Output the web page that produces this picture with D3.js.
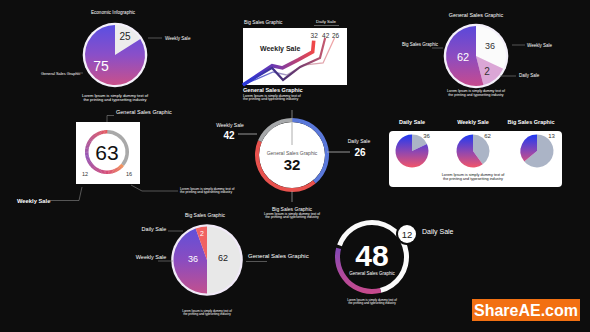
<!DOCTYPE html>
<html><head><meta charset="utf-8">
<script src="https://cdn.jsdelivr.net/npm/d3@7"></script>
<style>html,body{margin:0;padding:0;background:#0d0d0d;}svg{display:block;font-family:"Liberation Sans",Arial,sans-serif;}</style>
</head><body><svg id="c" width="590" height="332"></svg>
<script>
// ---------- data ----------
const lorem = ["Lorem Ipsum is simply dummy text of", "the printing and typesetting industry"];
const econLabels = ["25", "75"];
const econShares = [16, 84];
const lineNames = ["Light", "Thick", "Dark"];
const lineX = [[0, 29, 42, 58, 77, 88], [0, 28, 38, 53, 67, 68], [0, 28, 38.5, 55, 74, 79]];
const lineY = [[0, 11.4, 8.8, 17.5, 19.3, 41.2], [0, 17, 15, 22, 29, 39], [0, 15, 4.4, 15.8, 23.7, 41.2]];
const lineLabels = ["32", "42", "26"];
const genLabels = ["36", "2", "62"];
const genShares = [32, 14, 54];
const ringValue = "63";
const ringShares = [36, 64];
const ringSideLabels = ["12", "16"];
const centerShares = [39, 42.5, 18.5];
const centerLabels = ["42", "26", "32"];
const miniTitles = ["Daily Sale", "Weekly Sale", "Big Sales Graphic"];
const miniLabels = ["36", "62", "13"];
const miniGrayShares = [18, 40, 64];
const bigLabels = ["62", "36", "2"];
const bigShares = [50, 44.5, 5.5];
const donutValue = "48";
const donutBadge = "12";
const donutShares = [46, 33, 1.5, 19.5];

const svg = d3.select("#c");
const defs = svg.append("defs");
svg.append("rect").attr("width", 590).attr("height", 332).attr("fill", "#0d0d0d");

function vgrad(id, stops, y1, y2, x1, x2) {
  const g = defs.append("linearGradient").attr("id", id).attr("gradientUnits", "userSpaceOnUse")
    .attr("x1", x1 || 0).attr("x2", x2 || 0).attr("y1", y1).attr("y2", y2);
  stops.forEach((c, i) => g.append("stop").attr("offset", i / (stops.length - 1)).attr("stop-color", c));
}
function txt(x, y, s, size, opts) {
  opts = opts || {};
  return svg.append("text").attr("x", x).attr("y", y).text(s).attr("font-size", size)
    .attr("fill", opts.fill || "#fff").attr("text-anchor", opts.anchor || "middle")
    .attr("font-weight", opts.weight || "normal");
}
function line(pts, color, w) {
  svg.append("path").attr("d", d3.line()(pts)).attr("fill", "none").attr("stroke", color || "#888").attr("stroke-width", w || 0.6);
}
function loremAt(x, y, size, fill, anchor, gap) {
  lorem.forEach((l, i) => txt(x, y + i * (gap || size * 1.1), l, size, {fill: fill || "#fff", anchor: anchor || "middle"}));
}
const pieGen = d3.pie().sort(null).value(d => d);

// ---------- 1. Economic Infographic pie ----------
(function () {
  const cx = 115, cy = 55, r = 30;
  vgrad("g1", ["#5a4fe2", "#8a4fc8", "#c9508a"], -r, r);
  const g = svg.append("g").attr("transform", `translate(${cx},${cy})`);
  g.append("circle").attr("r", r + 2.3).attr("fill", "#f4f0fa");
  const arcs = pieGen(econShares);
  const cols = ["#ececec", "url(#g1)"];
  g.selectAll("path").data(arcs).join("path").attr("d", d3.arc().innerRadius(0).outerRadius(r)).attr("fill", (d, i) => cols[i]);
  txt(125, 40, econLabels[0], 10, {fill: "#222"});
  txt(101, 71, econLabels[1], 14);
  txt(113, 14, "Economic Infographic", 4.6);
  txt(165, 39.5, "Weekly Sale", 4.6, {anchor: "start"});
  line([[148, 38], [162, 38]]);
  txt(41, 74.5, "General Sales Graphic", 3.9, {anchor: "start"});
  line([[77, 73], [83, 73]]);
  loremAt(115, 96.5, 4);
})();

// ---------- 2. Big Sales line chart ----------
(function () {
  const x = d3.scaleLinear().domain([0, 100]).range([243, 347]);
  const y = d3.scaleLinear().domain([0, 50]).range([85, 28]);
  svg.append("rect").attr("x", x(0)).attr("y", y(50)).attr("width", x(100) - x(0)).attr("height", y(0) - y(50)).attr("fill", "#fff");
  vgrad("l0", ["#2b3fe0", "#b8a8c0", "#f3a4a4"], 0, 0, x(0), x(90));
  vgrad("l1", ["#2233e0", "#7a3aa8", "#f04848"], 0, 0, x(0), x(68));
  vgrad("l2", ["#2a3ae0", "#4a2f70", "#c85a70"], 0, 0, x(0), x(80));
  const widths = [1.3, 3.6, 2.2];
  [0, 1, 2].forEach(s => {
    const pts = lineX[s].map((v, i) => [x(v), y(lineY[s][i])]);
    svg.append("path").attr("d", d3.line()(pts)).attr("fill", "none").attr("stroke", `url(#l${s})`)
      .attr("stroke-width", widths[s]).attr("stroke-linejoin", "miter");
  });
  const lx = [x(68.5), x(79.5), x(89)];
  lineLabels.forEach((l, i) => txt(lx[i], 37.5, l, 6.5, {fill: "#333"}));
  txt(260, 50.5, "Weekly Sale", 7, {fill: "#222", anchor: "start", weight: "bold"});
  txt(244, 24, "Big Sales Graphic", 4.8, {anchor: "start"});
  txt(326, 22.5, "Daily Sale", 4.4);
  line([[314, 25.5], [339, 25.5]], "#999");
  txt(243, 92, "General Sales Graphic", 5.6, {anchor: "start", weight: "bold"});
  loremAt(243, 96.5, 3.5, "#fff", "start");
})();

// ---------- 3. General Sales pie (top right) ----------
(function () {
  const cx = 476, cy = 56, r = 30;
  vgrad("g3", ["#5a48da", "#8c4cc0", "#c64a8e"], -r, r);
  const g = svg.append("g").attr("transform", `translate(${cx},${cy})`);
  g.append("circle").attr("r", r + 2.3).attr("fill", "#f4f0fa");
  const cols = ["#fbfbfb", "#dba6d6", "url(#g3)"];
  g.selectAll("path").data(pieGen(genShares)).join("path").attr("d", d3.arc().innerRadius(0).outerRadius(r)).attr("fill", (d, i) => cols[i]);
  txt(490, 49, genLabels[0], 9, {fill: "#333"});
  txt(487, 75, genLabels[1], 10, {fill: "#333"});
  txt(463, 60.5, genLabels[2], 11);
  txt(476, 17, "General Sales Graphic", 5.4);
  txt(402, 45.5, "Big Sales Graphic", 4.5, {anchor: "start"});
  line([[432, 48], [443, 48]]);
  txt(527, 47, "Weekly Sale", 4.5, {anchor: "start"});
  line([[512, 45], [525, 45]]);
  txt(519, 77, "Daily Sale", 4.5, {anchor: "start"});
  line([[500, 76], [516, 76]]);
  loremAt(476, 92, 3.5);
})();

// ---------- 4. Ring in white square (middle left) ----------
(function () {
  svg.append("rect").attr("x", 76).attr("y", 122).attr("width", 64).attr("height", 62).attr("fill", "#fff");
  const cx = 107, cy = 152, ro = 22, ri = 18.5;
  const g = svg.append("g").attr("transform", `translate(${cx},${cy})`);
  const arcs = pieGen(ringShares);
  const arc = d3.arc().innerRadius(ri).outerRadius(ro);
  g.append("path").attr("d", arc(arcs[0])).attr("fill", "#a9a9a9");
  const c = d3.scaleLinear().domain([0, 0.2, 0.55, 1]).range(["#f0905a", "#d84e76", "#9456b6", "#e65a5e"]);
  const a0 = arcs[1].startAngle, a1 = arcs[1].endAngle, n = 60;
  g.selectAll(".seg").data(d3.range(n)).join("path").attr("class", "seg")
    .attr("d", i => arc({startAngle: a0 + (a1 - a0) * i / n, endAngle: a0 + (a1 - a0) * (i + 1.2) / n}))
    .attr("fill", i => c(i / n));
  txt(107, 159.5, ringValue, 21, {fill: "#111"});
  txt(85, 176, ringSideLabels[0], 5.5, {fill: "#333"});
  txt(129, 176, ringSideLabels[1], 5.5, {fill: "#333"});
  txt(116, 113.5, "General Sales Graphic", 5.5, {anchor: "start"});
  line([[107, 122], [107, 115.5], [114, 115.5]]);
  txt(17, 202.5, "Weekly Sale", 5.8, {anchor: "start", weight: "bold"});
  line([[48, 200.5], [79, 200.5], [82, 187]]);
  line([[131, 185], [142, 191], [178, 191]]);
  loremAt(180, 189.5, 3.3, "#fff", "start");
})();

// ---------- 5. Center ring ----------
(function () {
  const cx = 292, cy = 155, ro = 37, ri = 33;
  const g = svg.append("g").attr("transform", `translate(${cx},${cy})`);
  g.append("circle").attr("r", ri).attr("fill", "#fff");
  const cols = ["#5a78da", "#e8524e", "#a6a8aa"];
  g.selectAll("path").data(pieGen(centerShares)).join("path").attr("d", d3.arc().innerRadius(ri).outerRadius(ro)).attr("fill", (d, i) => cols[i]);
  line([[292, 110], [292, 145]], "#9a9a9a", 0.8);
  line([[292, 191], [292, 202]], "#9a9a9a", 0.8);
  txt(292, 155, "General Sales Graphic", 5, {fill: "#555"});
  txt(292, 170, centerLabels[2], 15, {fill: "#111", weight: "bold"});
  txt(230, 127, "Weekly Sale", 5);
  txt(229, 139, centerLabels[0], 10, {weight: "bold"});
  line([[238, 134], [257, 134]], "#bbb", 0.8);
  txt(359, 143, "Daily Sale", 5);
  txt(360, 156, centerLabels[1], 10, {weight: "bold"});
  line([[327, 152], [350, 152]], "#bbb", 0.8);
  txt(292, 210.5, "Big Sales Graphic", 5);
  loremAt(292, 214.5, 3.4);
})();

// ---------- 6. Three mini pies ----------
(function () {
  svg.append("rect").attr("x", 389).attr("y", 131).attr("width", 173).attr("height", 56).attr("rx", 4).attr("fill", "#fff");
  const cxs = [412, 473, 537], r = 16.5, cy = 151;
  vgrad("g6", ["#1e3af2", "#8a46b4", "#f2556a"], -r, r);
  miniGrayShares.forEach((s, k) => {
    const g = svg.append("g").attr("transform", `translate(${cxs[k]},${cy})`);
    const cols = ["#abb4c6", "url(#g6)"];
    g.selectAll("path").data(pieGen([s, 100 - s])).join("path").attr("d", d3.arc().innerRadius(0).outerRadius(r)).attr("fill", (d, i) => cols[i]);
    txt(cxs[k] + 14.5, 138, miniLabels[k], 6, {fill: "#333"});
    txt(k === 2 ? 531 : cxs[k], 123.5, miniTitles[k], 5.5, {weight: "bold"});
  });
  loremAt(473, 176, 3.8, "#111");
})();

// ---------- 7. Big Sales pie (bottom left) ----------
(function () {
  const cx = 207, cy = 260, r = 33.5;
  vgrad("g7", ["#5e50da", "#8a4cc0", "#c2508e"], -r, r);
  const g = svg.append("g").attr("transform", `translate(${cx},${cy})`);
  g.append("circle").attr("r", r + 2.3).attr("fill", "#f1eaf8");
  const cols = ["#e8e8e8", "url(#g7)", "#f06262"];
  g.selectAll("path").data(pieGen(bigShares)).join("path").attr("d", d3.arc().innerRadius(0).outerRadius(r)).attr("fill", (d, i) => cols[i]);
  txt(223, 261, bigLabels[0], 9, {fill: "#222"});
  txt(193, 261.5, bigLabels[1], 9);
  txt(202, 236, bigLabels[2], 7);
  txt(205, 216.5, "Big Sales Graphic", 5);
  txt(154, 231, "Daily Sale", 5.5);
  line([[168, 231], [183, 231]]);
  txt(151, 258.5, "Weekly Sale", 5.5);
  line([[158, 261], [173, 261]]);
  txt(248, 258, "General Sales Graphic", 6, {anchor: "start"});
  line([[246, 261.5], [267, 261.5]]);
  loremAt(207, 312, 3);
})();

// ---------- 8. Donut 48 (bottom right) ----------
(function () {
  const cx = 372, cy = 257, ro = 37, ri = 32;
  vgrad("g8", ["#7e48b6", "#a84aa2", "#c84a8c"], -ro * 0.3, ro);
  const g = svg.append("g").attr("transform", `translate(${cx},${cy})`);
  const cols = ["#fafafa", "url(#g8)", "none", "#fafafa"];
  g.selectAll("path").data(pieGen(donutShares)).join("path").attr("d", d3.arc().innerRadius(ri).outerRadius(ro)).attr("fill", (d, i) => cols[i]);
  txt(372, 265.5, donutValue, 30, {weight: "bold"});
  txt(372, 274.5, "General Sales Graphic", 4.5);
  svg.append("circle").attr("cx", 407).attr("cy", 234).attr("r", 11).attr("fill", "#0d0d0d");
  svg.append("circle").attr("cx", 407).attr("cy", 234).attr("r", 9).attr("fill", "#fff");
  txt(407, 237.5, donutBadge, 9.5, {fill: "#222"});
  txt(422, 233.5, "Daily Sale", 7, {anchor: "start"});
  loremAt(372, 301, 3);
})();

// ---------- watermark ----------
svg.append("rect").attr("x", 472).attr("y", 299).attr("width", 108).attr("height", 22).attr("fill", "#f27012");
txt(526, 316, "ShareAE.com", 16, {weight: "bold"});
</script>
</body></html>
